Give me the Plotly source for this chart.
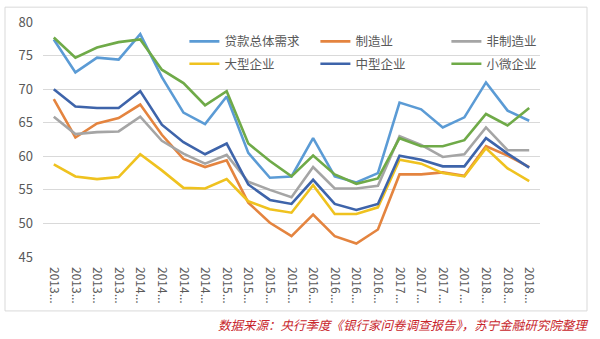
import plotly.graph_objects as go

# Quarterly survey index, 2013Q1 - 2018Q3
quarters = ["2013..."] * 4 + ["2014..."] * 4 + ["2015..."] * 4 + ["2016..."] * 4 + ["2017..."] * 4 + ["2018..."] * 3

loan_demand = [77.4, 72.5, 74.7, 74.4, 78.2, 71.8, 66.5, 64.8, 68.9, 60.5, 56.8, 57.0,
               62.7, 57.0, 56.1, 57.5, 68.0, 67.0, 64.3, 65.8, 71.0, 66.8, 65.3]
manufacturing = [68.5, 62.8, 64.9, 65.7, 67.7, 63.2, 59.6, 58.4, 59.4, 53.1, 50.1, 48.1,
                 51.3, 48.1, 47.0, 49.1, 57.3, 57.3, 57.6, 57.1, 61.5, 60.1, 58.4]
non_manufacturing = [65.9, 63.3, 63.6, 63.7, 65.9, 62.3, 60.4, 58.9, 60.2, 56.2, 55.0, 53.9,
                     58.4, 55.2, 55.2, 55.6, 63.0, 61.7, 59.9, 60.3, 64.3, 60.9, 60.9]
large = [58.8, 57.0, 56.6, 56.9, 60.3, 57.9, 55.3, 55.2, 56.6, 53.3, 52.1, 51.6,
         55.7, 51.4, 51.4, 52.4, 59.5, 58.9, 57.5, 57.0, 61.2, 58.2, 56.3]
medium = [70.0, 67.4, 67.2, 67.2, 69.7, 64.7, 62.1, 60.3, 61.9, 55.8, 53.5, 52.9,
          56.5, 52.9, 52.0, 52.9, 60.1, 59.5, 58.5, 58.5, 62.7, 60.4, 58.3]
small_micro = [77.7, 74.7, 76.2, 77.0, 77.4, 72.9, 70.9, 67.6, 69.7, 61.9, 59.3, 57.0,
               60.1, 57.3, 55.9, 56.7, 62.7, 61.5, 61.5, 62.4, 66.3, 64.6, 67.2]

# name, values, colour, legend row
series = [
    ("贷款总体需求", loan_demand, "#5B9BD5", "legend"),
    ("制造业", manufacturing, "#E4843F", "legend"),
    ("非制造业", non_manufacturing, "#A5A5A5", "legend"),
    ("大型企业", large, "#EFC21F", "legend2"),
    ("中型企业", medium, "#3E64AA", "legend2"),
    ("小微企业", small_micro, "#6FAA48", "legend2"),
]

x = list(range(len(quarters)))
font_family = "Noto Sans CJK SC"

fig = go.Figure()
for name, values, color, leg in series:
    fig.add_trace(go.Scatter(
        x=x, y=values, name=name, mode="lines",
        line=dict(color=color, width=2.6), legend=leg,
    ))

legend_style = dict(
    orientation="h", x=0.2845, xanchor="left", yanchor="middle",
    entrywidth=86, entrywidthmode="pixels",
    font=dict(size=12.5, color="#595959"), bgcolor="rgba(0,0,0,0)",
    traceorder="normal",
)

fig.update_layout(
    width=600, height=339,
    margin=dict(l=43, r=60, t=20, b=81.5),
    paper_bgcolor="white", plot_bgcolor="white",
    font=dict(family=font_family, color="#595959"),
    showlegend=True,
    legend=dict(legend_style, y=(257.5 - 40) / 237.5),
    legend2=dict(legend_style, y=(257.5 - 62.5) / 237.5),
    xaxis=dict(
        range=[-0.5, len(quarters) - 0.5],
        tickmode="array", tickvals=x, ticktext=quarters,
        tickangle=90, tickfont=dict(size=12, color="#595959"),
        showgrid=False, zeroline=False, showline=False, ticks="",
        ticklabelstandoff=9,
    ),
    yaxis=dict(
        range=[45, 80], dtick=5, tick0=45,
        showgrid=True, gridcolor="#D9D9D9", gridwidth=1,
        zeroline=False, showline=False, ticks="",
        tickfont=dict(size=13, color="#595959"),
        ticklabelstandoff=9,
    ),
    shapes=[dict(
        type="rect", xref="paper", yref="paper",
        x0=(5 - 43) / 497, x1=(587 - 43) / 497,
        y0=(257.5 - 312) / 237.5, y1=(257.5 - 5) / 237.5,
        line=dict(color="#D9D9D9", width=1), fillcolor="rgba(0,0,0,0)", layer="below",
    )],
    annotations=[dict(
        text="<i>数据来源：央行季度《银行家问卷调查报告》，苏宁金融研究院整理</i>",
        xref="paper", yref="paper",
        x=(590 - 43) / 497, y=(257.5 - 326) / 237.5,
        xanchor="right", yanchor="middle", showarrow=False,
        font=dict(size=12.5, color="#C8262C", family=font_family),
    )],
)

fig.write_html("out.html")
